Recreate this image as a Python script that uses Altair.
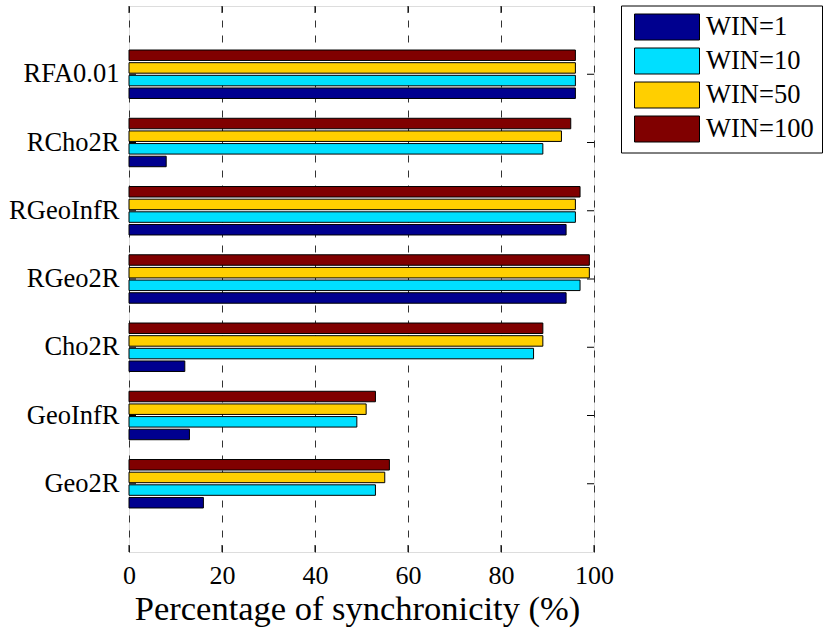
import altair as alt
import pandas as pd

# Methods, listed top to bottom
categories = ["RFA0.01", "RCho2R", "RGeoInfR", "RGeo2R", "Cho2R", "GeoInfR", "Geo2R"]

# Percentage of synchronicity for each window size
win1 = [96, 8, 94, 94, 12, 13, 16]
win10 = [96, 89, 96, 97, 87, 49, 53]
win50 = [96, 93, 96, 99, 89, 51, 55]
win100 = [96, 95, 97, 99, 89, 53, 56]

series_names = ["WIN=1", "WIN=10", "WIN=50", "WIN=100"]
series_colors = ["#00008F", "#00DFFF", "#FFCF00", "#800000"]
x_ticks = [0, 20, 40, 60, 80, 100]

rows = []
for name, vals in zip(series_names, [win1, win10, win50, win100]):
    for cat, v in zip(categories, vals):
        rows.append({"method": cat, "series": name, "value": v})
df = pd.DataFrame(rows)
cat_df = pd.DataFrame({"method": categories})
tick_df = pd.DataFrame({"value": x_ticks})

W, H = 465, 546
FONT = "Liberation Serif"
X_TITLE = "Percentage of synchronicity (%)"

y_scale = alt.Scale(domain=categories, paddingInner=0.29, paddingOuter=0.645)
x_scale = alt.Scale(domain=[0, 100], nice=False, zero=True)

x_axis = alt.Axis(
    values=x_ticks,
    title=X_TITLE,
    grid=True,
    gridDash=[7, 8],
    gridColor="#333333",
    gridWidth=1,
    gridOpacity=1,
    ticks=False,
    domain=False,
    labelFlush=False,
    labelOverlap=False,
    labelPadding=10,
    labelFont=FONT,
    labelFontSize=26,
    labelColor="#000000",
    titleFont=FONT,
    titleFontSize=34.5,
    titleFontWeight="normal",
    titleColor="#000000",
    titlePadding=4,
    titleX=228,
)
y_axis = alt.Axis(
    title=None,
    ticks=False,
    domain=False,
    grid=False,
    labelPadding=10,
    labelFont=FONT,
    labelFontSize=26.5,
    labelColor="#000000",
)

bars = alt.Chart(df).mark_bar(stroke="#000000", strokeWidth=1).encode(
    x=alt.X("value:Q", scale=x_scale, axis=x_axis),
    y=alt.Y("method:N", scale=y_scale, axis=y_axis),
    yOffset=alt.YOffset(
        "series:N",
        scale=alt.Scale(domain=list(reversed(series_names)), paddingInner=0.17, paddingOuter=0),
    ),
    color=alt.Color(
        "series:N",
        scale=alt.Scale(domain=series_names, range=series_colors),
        legend=alt.Legend(
            title=None,
            orient="none",
            legendX=492,
            legendY=-0.5,
            symbolType="M-1,-1H4V1H-1Z",
            symbolSize=676,
            symbolStrokeColor="#000000",
            symbolStrokeWidth=1,
            symbolOpacity=1,
            symbolOffset=5,
            labelFont=FONT,
            labelFontSize=26.5,
            labelColor="#000000",
            labelOffset=45,
            rowPadding=3,
            padding=8,
            strokeColor="#000000",
            fillColor="#FFFFFF",
        ),
    ),
)

# Inward tick marks on the left and right frame edges
y_ticks_left = alt.Chart(cat_df).mark_rule(color="#000000", strokeWidth=1).encode(
    y=alt.Y("method:N", scale=y_scale, bandPosition=0.5, axis=y_axis),
    x=alt.value(0),
    x2=alt.value(7),
)
y_ticks_right = alt.Chart(cat_df).mark_rule(color="#000000", strokeWidth=1).encode(
    y=alt.Y("method:N", scale=y_scale, bandPosition=0.5, axis=y_axis),
    x=alt.value(W),
    x2=alt.value(W - 7),
)

# Inward tick marks on the top and bottom frame edges
x_ticks_top = alt.Chart(tick_df).mark_rule(color="#000000", strokeWidth=1).encode(
    x=alt.X("value:Q", scale=x_scale, axis=x_axis),
    y=alt.value(0),
    y2=alt.value(7),
)
x_ticks_bottom = alt.Chart(tick_df).mark_rule(color="#000000", strokeWidth=1).encode(
    x=alt.X("value:Q", scale=x_scale, axis=x_axis),
    y=alt.value(H),
    y2=alt.value(H - 7),
)

chart = (
    alt.layer(bars, y_ticks_left, y_ticks_right, x_ticks_top, x_ticks_bottom)
    .properties(
        width=W,
        height=H,
        autosize=alt.AutoSizeParams(type="none"),
        padding={"left": 129, "top": 6, "right": 235, "bottom": 78},
        background="#FFFFFF",
    )
    .configure_view(stroke="#000000", strokeWidth=1)
    .configure(font=FONT)
)

chart.save("out.html", embed_options={"renderer": "svg", "actions": False})
